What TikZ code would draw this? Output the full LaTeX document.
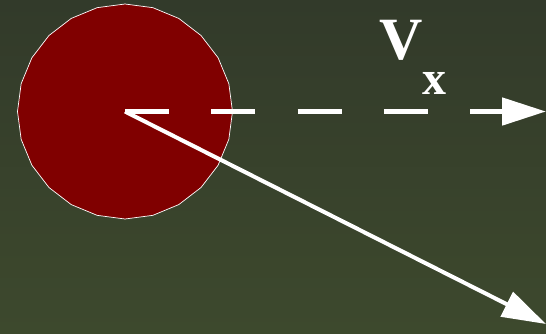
\documentclass[tikz,border=0pt]{standalone}
\usepackage{fontspec}
\setmainfont{Liberation Serif}
\usetikzlibrary{arrows.meta,shapes.geometric}
\definecolor{bgtop}{RGB}{50,58,42}
\definecolor{bgbot}{RGB}{61,73,45}
\definecolor{ballred}{RGB}{128,0,0}
\begin{document}
\begin{tikzpicture}[x=1pt,y=-1pt,
    ball/.style={regular polygon,regular polygon sides=24,shape border rotate=7.5,
      minimum size=215pt,inner sep=0pt,fill=ballred,draw=white,line width=0.7pt},
    vec/.style={white,line width=4pt,-{Triangle[length=44pt,width=27pt]}},
    vecdash/.style={vec,line width=5pt,dash pattern=on 44pt off 42.25pt},
    lab/.style={text=white,font=\bfseries,inner sep=0pt}]
  % background
  \useasboundingbox (0,0) rectangle (546,333);
  \shade[top color=bgtop,bottom color=bgbot] (0,0) rectangle (546,333);

  % ball and its centre
  \node[ball] (ball) at (125,111.5) {};
  \coordinate (c) at (125,111.5);
  \coordinate (vxend) at (546,111.5);
  \coordinate (vend) at (546,324);

  % velocity and its x component
  \draw[vecdash] (c) -- (vxend);
  \draw[vec] (c) -- (vend);

  % label
  \node[lab,font=\fontsize{60}{60}\selectfont\bfseries] (vlabel) at (401,40) {V};
  \node[lab,font=\fontsize{48}{48}\selectfont\bfseries] (xlabel) at (434,83) {x};
\end{tikzpicture}
\end{document}
